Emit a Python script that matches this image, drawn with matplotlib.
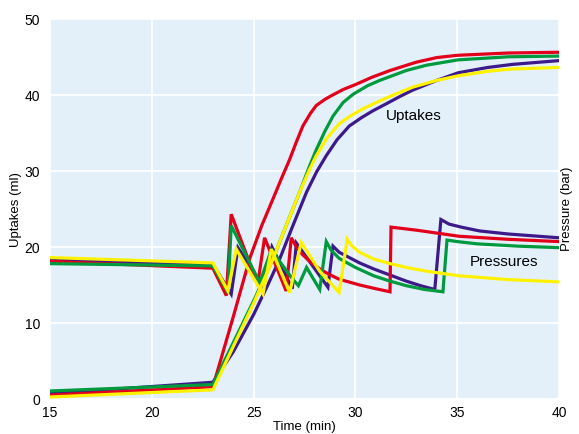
import matplotlib.pyplot as plt

plt.rcParams['font.family'] = ['Liberation Sans', 'DejaVu Sans']

# uptake curves (ml)
t_up_red = [15, 23, 24, 24.8, 25.4, 25.95, 26.4, 26.77, 27.1, 27.42, 27.8, 28.08, 28.5, 28.9, 29.4, 30.05, 30.8,
            31.7, 33, 34, 35, 37.5, 40]
up_red = [0.5, 1.6, 10.8, 18.4, 22.8, 26.3, 29.2, 31.5, 33.8, 35.9, 37.6, 38.6, 39.4, 40.0, 40.7, 41.4, 42.3,
          43.2, 44.3, 44.9, 45.2, 45.5, 45.6]
t_up_green = [15, 23, 24, 25, 25.95, 26.6, 27.26, 27.7, 28.08, 28.5, 28.9, 29.4, 29.9, 30.6, 31.2, 31.7, 32.5,
              33.5, 35.05, 37.5, 40]
up_green = [1.05, 1.9, 7.4, 12.9, 18.4, 22.8, 27.2, 30.3, 32.8, 35.2, 37.2, 39.0, 40.1, 41.2, 41.9, 42.4, 43.2,
            43.9, 44.6, 45.0, 45.1]
t_up_yellow = [15, 23, 24, 25, 25.95, 26.6, 27.26, 27.7, 28.08, 28.6, 29.2, 29.8, 30.4, 31.2, 31.7, 32.8,
               34, 35.05, 36.5, 37.7, 40]
up_yellow = [0.26, 1.2, 6.9, 12.6, 18.4, 22.8, 27.2, 29.9, 32.0, 34.3, 36.2, 37.3, 38.2, 39.2, 39.8, 41.0,
             41.9, 42.5, 43.1, 43.4, 43.6]
t_up_purple = [15, 23, 24, 25, 25.7, 26.28, 26.9, 27.6, 28.1, 28.57, 29.1, 29.7, 30.3, 30.86, 31.5, 32.2,
               32.8, 34, 35.05, 36.5, 37.7, 40]
up_purple = [0.7, 2.2, 6.2, 11.1, 15.0, 18.4, 22.6, 27.2, 29.9, 32.0, 34.1, 35.9, 37.0, 37.9, 38.8, 39.8,
             40.6, 41.9, 42.9, 43.6, 44.0, 44.5]

# pressure curves (bar)
t_pr_red = [15, 23, 23.66, 23.9, 25.2, 25.54, 26.6, 26.85, 27.1, 27.4, 27.8, 28.25, 28.7, 29.2, 30.2, 31,
            31.7, 31.75, 33, 35.1, 37.5, 40]
pr_red = [18.1, 17.2, 13.6, 24.3, 15.1, 21.2, 14.2, 21.2, 20.0, 19.0, 18.0, 17.1, 16.4, 15.75, 15.0, 14.5,
          14.1, 22.6, 22.2, 21.4, 21.0, 20.7]
t_pr_green = [15, 23, 23.74, 23.9, 25.3, 25.87, 26.85, 27.2, 27.6, 28.25, 28.57, 28.8, 29.2, 30, 30.9, 31.7,
              32.5, 33.4, 34.3, 34.5, 35, 36, 38, 40]
pr_green = [17.8, 17.5, 14.0, 22.8, 15.3, 19.6, 16.0, 14.9, 17.3, 14.4, 20.7, 19.6, 18.5, 17.3, 16.2, 15.5,
            14.9, 14.4, 14.1, 20.9, 20.7, 20.4, 20.1, 19.9]
t_pr_yellow = [15, 23, 23.74, 24.15, 25.46, 25.87, 26.77, 27.34, 28.25, 29.2, 29.6, 29.8, 30.2, 30.9, 31.7,
               32.5, 33.5, 35.1, 37.5, 40]
pr_yellow = [18.6, 17.9, 14.2, 19.7, 13.8, 19.7, 14.0, 20.6, 16.8, 14.0, 21.0, 20.2, 19.3, 18.4, 17.8, 17.3,
             16.8, 16.2, 15.7, 15.4]
t_pr_purple = [15, 23, 23.9, 24.23, 25.4, 25.9, 26.9, 27.1, 28.65, 28.9, 29.2, 29.7, 30.2, 30.9, 31.7, 32.5,
               33.2, 33.9, 34.2, 34.6, 35.2, 36.1, 37.5, 40]
pr_purple = [18.3, 17.7, 13.8, 19.9, 15.0, 20.0, 14.5, 20.5, 14.7, 20.1, 19.3, 18.6, 17.9, 17.1, 16.3, 15.5,
             14.9, 14.4, 23.6, 23.0, 22.6, 22.1, 21.7, 21.2]

colors = {'purple': '#3d1a8a', 'red': '#e2001a', 'green': '#009a3e', 'yellow': '#fff200'}

fig = plt.figure(figsize=(5.79, 4.35), dpi=100)
ax = fig.add_axes([0.0864, 0.0805, 0.879, 0.874])
ax.set_facecolor('#e3f0fa')

series = [
    ('purple', t_up_purple, up_purple, t_pr_purple, pr_purple),
    ('red', t_up_red, up_red, t_pr_red, pr_red),
    ('green', t_up_green, up_green, t_pr_green, pr_green),
    ('yellow', t_up_yellow, up_yellow, t_pr_yellow, pr_yellow),
]
for name, tu, u, tp, p in series:
    ax.plot(tu, u, color=colors[name], lw=2.3)
    ax.plot(tp, p, color=colors[name], lw=2.3, solid_joinstyle='miter')

ax.set_xlim(15, 40)
ax.set_ylim(0, 50)
ax.set_xticks([15, 20, 25, 30, 35, 40])
ax.set_yticks([0, 10, 20, 30, 40, 50])
ax.grid(color='white', lw=1.2)
ax.set_axisbelow(True)
for s in ax.spines.values():
    s.set_visible(False)
ax.tick_params(length=0, labelsize=10)
ax.tick_params(axis='x', pad=4)
ax.tick_params(axis='y', pad=7)

ax.set_xlabel('Time (min)', fontsize=9.5, labelpad=1)
ax.set_ylabel('Uptakes (ml)', fontsize=9.5, labelpad=2)
fig.text(0.99, 0.52, 'Pressure (bar)', rotation=90, fontsize=9.5,
         ha='right', va='center')

ax.text(31.5, 37.3, 'Uptakes', fontsize=11, va='center')
ax.text(35.6, 18.2, 'Pressures', fontsize=11, va='center')

fig.savefig('out.png', dpi=100)
